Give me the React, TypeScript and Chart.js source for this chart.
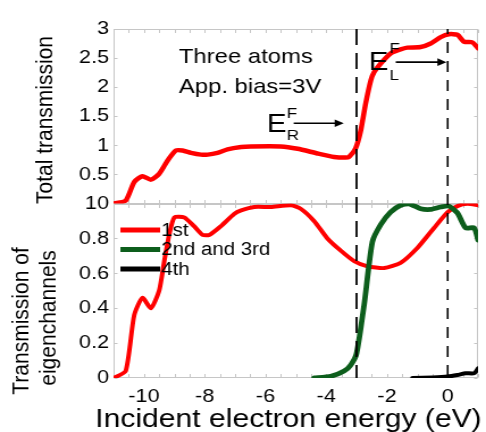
import { useEffect, useRef } from "react";
import { Chart, registerables } from "chart.js";

Chart.register(...registerables);

// ---- data -------------------------------------------------------------
// Total transmission vs incident electron energy (eV)
const energyTotal = [
  -11.0, -10.6, -10.32, -10.05, -9.77, -9.5, -9.22, -8.95, -8.73, -8.45, -8.12, -7.9,
  -7.58, -7.25, -6.8, -6.48, -5.5, -4.94, -4.29, -3.74, -3.36, -3.25, -3.03, -2.86,
  -2.7, -2.53, -2.42, -2.2, -1.88, -1.55, -1.33, -0.89, -0.56, -0.23, 0.04, 0.32,
  0.54, 0.81, 1.0,
];
const totalTransmission = [
  0.0, 0.05, 0.37, 0.47, 0.41, 0.51, 0.74, 0.91, 0.91, 0.87, 0.84, 0.84,
  0.87, 0.93, 0.97, 0.98, 0.98, 0.94, 0.86, 0.8, 0.79, 0.8, 0.95, 1.26,
  1.72, 2.12, 2.26, 2.41, 2.58, 2.65, 2.68, 2.69, 2.75, 2.86, 2.91, 2.9,
  2.78, 2.77, 2.67,
];

// Eigenchannel transmissions
const energyFirst = [
  -11.0, -10.6, -10.32, -10.05, -9.77, -9.5, -9.33, -9.17, -9.0, -8.67, -8.35, -8.07,
  -7.85, -7.47, -7.03, -6.8, -6.37, -5.82, -5.16, -4.84, -4.4, -3.96, -3.52, -3.08,
  -2.64, -2.09, -1.55, -1.0, -0.45, 0.0, 0.32, 0.65, 1.0,
];
const firstChannel = [
  0.0, 0.04, 0.36, 0.46, 0.4, 0.5, 0.67, 0.82, 0.92, 0.92, 0.87, 0.82,
  0.82, 0.87, 0.94, 0.96, 0.98, 0.98, 0.99, 0.97, 0.9, 0.8, 0.73, 0.67,
  0.64, 0.63, 0.66, 0.745, 0.86, 0.95, 0.985, 0.998, 0.99,
];
const energySecondThird = [
  -4.4, -3.85, -3.41, -3.19, -3.0, -2.75, -2.48, -2.2, -1.88, -1.55, -1.27, -0.89,
  -0.56, -0.23, 0.04, 0.32, 0.59, 0.87, 1.0,
];
const secondThirdChannel = [
  0.0, 0.01, 0.04, 0.075, 0.14, 0.42, 0.78, 0.88, 0.95, 0.99, 0.998, 0.97,
  0.966, 0.98, 0.985, 0.946, 0.86, 0.86, 0.79,
];
const energyFourth = [-1.16, -0.5, 0.0, 0.32, 0.59, 0.87, 1.0];
const fourthChannel = [0.0, 0.003, 0.008, 0.017, 0.027, 0.027, 0.055];

// ---- axes -------------------------------------------------------------
const energyTicks = [-10, -8, -6, -4, -2, 0];
const totalTicks = [0, 0.5, 1, 1.5, 2, 2.5, 3];
const channelTicks = [0, 0.2, 0.4, 0.6, 0.8, 1];
const rightFermi = -3; // E_R^F
const leftFermi = 0; // E_L^F
const channelLabels = ["1st", "2nd and 3rd", "4th"];
const channelColors = ["#ff0000", "#0d5e1c", "#000000"];

// ---- layout -----------------------------------------------------------
const VIEW_W = 486;
const VIEW_H = 432;
const STRETCH = 1.1355; // horizontal stretch applied to the canvas via CSS
const CANVAS_W = Math.round(VIEW_W / STRETCH);
const FONT = "'Liberation Sans', Arial, Helvetica, sans-serif";

const pts = (xs: number[], ys: number[]) => xs.map((x, i) => ({ x, y: ys[i] }));

function arrowRight(ctx: CanvasRenderingContext2D, x1: number, x2: number, y: number) {
  ctx.beginPath();
  ctx.moveTo(x1, y);
  ctx.lineTo(x2 - 5, y);
  ctx.lineWidth = 1.6;
  ctx.strokeStyle = "#000";
  ctx.stroke();
  ctx.beginPath();
  ctx.moveTo(x2, y);
  ctx.lineTo(x2 - 8, y - 3.8);
  ctx.lineTo(x2 - 8, y + 3.8);
  ctx.closePath();
  ctx.fillStyle = "#000";
  ctx.fill();
}

const panelFrames = {
  id: "panelFrames",
  beforeDatasetsDraw(chart: any) {
    const { ctx, chartArea: ca, scales } = chart;
    const x = scales.x;
    const panels: [any, number[]][] = [
      [scales.yTop, totalTicks],
      [scales.yBot, channelTicks],
    ];
    ctx.save();
    ctx.strokeStyle = "#c6c6c6";
    ctx.lineWidth = 1;
    const L = Math.round(ca.left) + 0.5;
    const R = Math.round(ca.right) - 0.5;
    for (const [s, ticks] of panels) {
      const T = Math.round(s.top) + 0.5;
      const B = Math.round(s.bottom) - 0.5;
      ctx.strokeRect(L, T, R - L, B - T);
      ctx.beginPath();
      for (let v = -11; v <= 1.001; v += 0.5) {
        const px = Math.round(x.getPixelForValue(v)) + 0.5;
        ctx.moveTo(px, T);
        ctx.lineTo(px, T + 3.5);
        ctx.moveTo(px, B);
        ctx.lineTo(px, B - 3.5);
      }
      for (const v of ticks) {
        const py = Math.round(s.getPixelForValue(v)) + 0.5;
        ctx.moveTo(L, py);
        ctx.lineTo(L + 3, py);
        ctx.moveTo(R, py);
        ctx.lineTo(R - 3, py);
      }
      ctx.stroke();
    }
    ctx.restore();
  },
  afterDatasetsDraw(chart: any) {
    const { ctx, scales } = chart;
    const x = scales.x;
    const top = scales.yTop.top;
    const bottom = scales.yBot.bottom;
    ctx.save();
    ctx.strokeStyle = "#000";
    ctx.lineWidth = 1.8;
    ctx.setLineDash([16, 8]);
    let px = x.getPixelForValue(rightFermi);
    ctx.beginPath();
    ctx.moveTo(px, top);
    ctx.lineTo(px, bottom);
    ctx.stroke();
    ctx.lineWidth = 1.6;
    ctx.setLineDash([11, 8]);
    ctx.lineDashOffset = 6;
    px = x.getPixelForValue(leftFermi);
    ctx.beginPath();
    ctx.moveTo(px, top);
    ctx.lineTo(px, bottom);
    ctx.stroke();
    ctx.restore();
  },
  afterDraw(chart: any) {
    const { ctx, chartArea: ca, scales } = chart;
    const x = scales.x;
    const yt = scales.yTop;
    ctx.save();
    ctx.fillStyle = "#000";
    ctx.textAlign = "left";
    ctx.textBaseline = "alphabetic";

    // system description
    ctx.font = `21px ${FONT}`;
    ctx.fillText("Three atoms", x.getPixelForValue(-8.85), yt.getPixelForValue(2.415));
    ctx.fillText("App. bias=3V", x.getPixelForValue(-8.85), yt.getPixelForValue(1.9));

    // Fermi level labels with arrows
    const fermi = (eX: number, eY: number, sub: string, supY: number, subY: number, subX: number, a1: number, a2: number, aY: number) => {
      ctx.font = `26px ${FONT}`;
      ctx.fillText("E", x.getPixelForValue(eX), yt.getPixelForValue(eY));
      ctx.font = `15px ${FONT}`;
      ctx.fillText("F", x.getPixelForValue(subX), yt.getPixelForValue(supY));
      ctx.fillText(sub, x.getPixelForValue(subX), yt.getPixelForValue(subY));
      arrowRight(ctx, x.getPixelForValue(a1), x.getPixelForValue(a2), yt.getPixelForValue(aY));
    };
    fermi(-5.95, 1.23, "R", 1.47, 1.09, -5.3, -5.07, -3.42, 1.38);
    fermi(-2.6, 2.295, "L", 2.59, 2.12, -1.92, -1.71, -0.04, 2.43);

    // legend for eigenchannels
    ctx.font = `18px ${FONT}`;
    ctx.textBaseline = "middle";
    const ys = [230, 249.5, 269];
    channelLabels.forEach((label, i) => {
      ctx.beginPath();
      ctx.moveTo(ca.left + 6, ys[i]);
      ctx.lineTo(ca.left + 41, ys[i]);
      ctx.lineWidth = 5;
      ctx.strokeStyle = channelColors[i];
      ctx.stroke();
      ctx.fillText(label, ca.left + 42, ys[i] + 1);
    });

    // axis titles
    ctx.textBaseline = "alphabetic";
    ctx.textAlign = "center";
    ctx.font = `21px ${FONT}`;
    const vText = (text: string, bx: number, cy: number) => {
      ctx.save();
      ctx.translate(bx, cy);
      ctx.rotate(-Math.PI / 2);
      ctx.fillText(text, 0, 0);
      ctx.restore();
    };
    vText("Total transmission", 45.5, 120);
    vText("Transmission of", 24.5, 321);
    vText("eigenchannels", 48.5, 318);
    ctx.font = `26.5px ${FONT}`;
    ctx.fillText("Incident electron energy (eV)", 254, 427);
    ctx.restore();
  },
};

export default function App() {
  const ref = useRef<HTMLCanvasElement | null>(null);

  useEffect(() => {
    const canvas = ref.current;
    if (!canvas) return;
    const tickFont = { family: FONT, size: 19 };
    const line = (color: string, width: number) => ({
      borderColor: color,
      backgroundColor: color,
      borderWidth: width,
      pointRadius: 0,
      borderJoinStyle: "round" as const,
      borderCapStyle: "round" as const,
      tension: 0.2,
      fill: false,
    });
    const chart = new Chart(canvas, {
      type: "line",
      data: {
        datasets: [
          { label: channelLabels[2], data: pts(energyFourth, fourthChannel), yAxisID: "yBot", ...line(channelColors[2], 4) },
          { label: channelLabels[1], data: pts(energySecondThird, secondThirdChannel), yAxisID: "yBot", ...line(channelColors[1], 4.8) },
          { label: channelLabels[0], data: pts(energyFirst, firstChannel), yAxisID: "yBot", ...line(channelColors[0], 4) },
          { label: "Total", data: pts(energyTotal, totalTransmission), yAxisID: "yTop", ...line("#ff0000", 4.5) },
        ],
      },
      options: {
        responsive: false,
        animation: false,
        devicePixelRatio: 1,
        layout: { padding: { top: 29, right: 7, left: 0, bottom: 0 } },
        plugins: { legend: { display: false }, tooltip: { enabled: false } },
        scales: {
          x: {
            type: "linear",
            min: -11,
            max: 1,
            afterBuildTicks: (s: any) => {
              s.ticks = energyTicks.map((v) => ({ value: v }));
            },
            afterFit: (s: any) => {
              s.height = 54;
            },
            grid: { display: false, drawTicks: false },
            border: { display: false },
            ticks: { font: tickFont, color: "#000", padding: 7, autoSkip: false, maxRotation: 0, callback: (v: any) => String(v) },
          },
          yBot: {
            type: "linear",
            position: "left",
            stack: "panels",
            stackWeight: 1,
            min: 0,
            max: 1,
            afterBuildTicks: (s: any) => {
              s.ticks = channelTicks.map((v) => ({ value: v }));
            },
            afterFit: (s: any) => {
              s.width = 100;
            },
            grid: { display: false, drawTicks: false },
            border: { display: false },
            ticks: {
              font: tickFont,
              color: "#000",
              padding: 4,
              autoSkip: false,
              callback: (v: any) => (v === 1 ? "1\u2007" : String(v)),
            },
          },
          yTop: {
            type: "linear",
            position: "left",
            stack: "panels",
            stackWeight: 1,
            min: 0,
            max: 3,
            afterBuildTicks: (s: any) => {
              s.ticks = totalTicks.map((v) => ({ value: v }));
            },
            afterFit: (s: any) => {
              s.width = 100;
            },
            grid: { display: false, drawTicks: false },
            border: { display: false },
            ticks: { font: tickFont, color: "#000", padding: 4, autoSkip: false, callback: (v: any) => String(v) },
          },
        },
      },
      plugins: [panelFrames],
    });
    return () => chart.destroy();
  }, []);

  return (
    <div style={{ position: "absolute", left: 0, top: 0, width: VIEW_W, height: VIEW_H, background: "#fff" }}>
      <canvas
        ref={ref}
        width={CANVAS_W}
        height={VIEW_H}
        style={{ display: "block", width: `${VIEW_W}px`, height: `${VIEW_H}px` }}
      />
    </div>
  );
}
